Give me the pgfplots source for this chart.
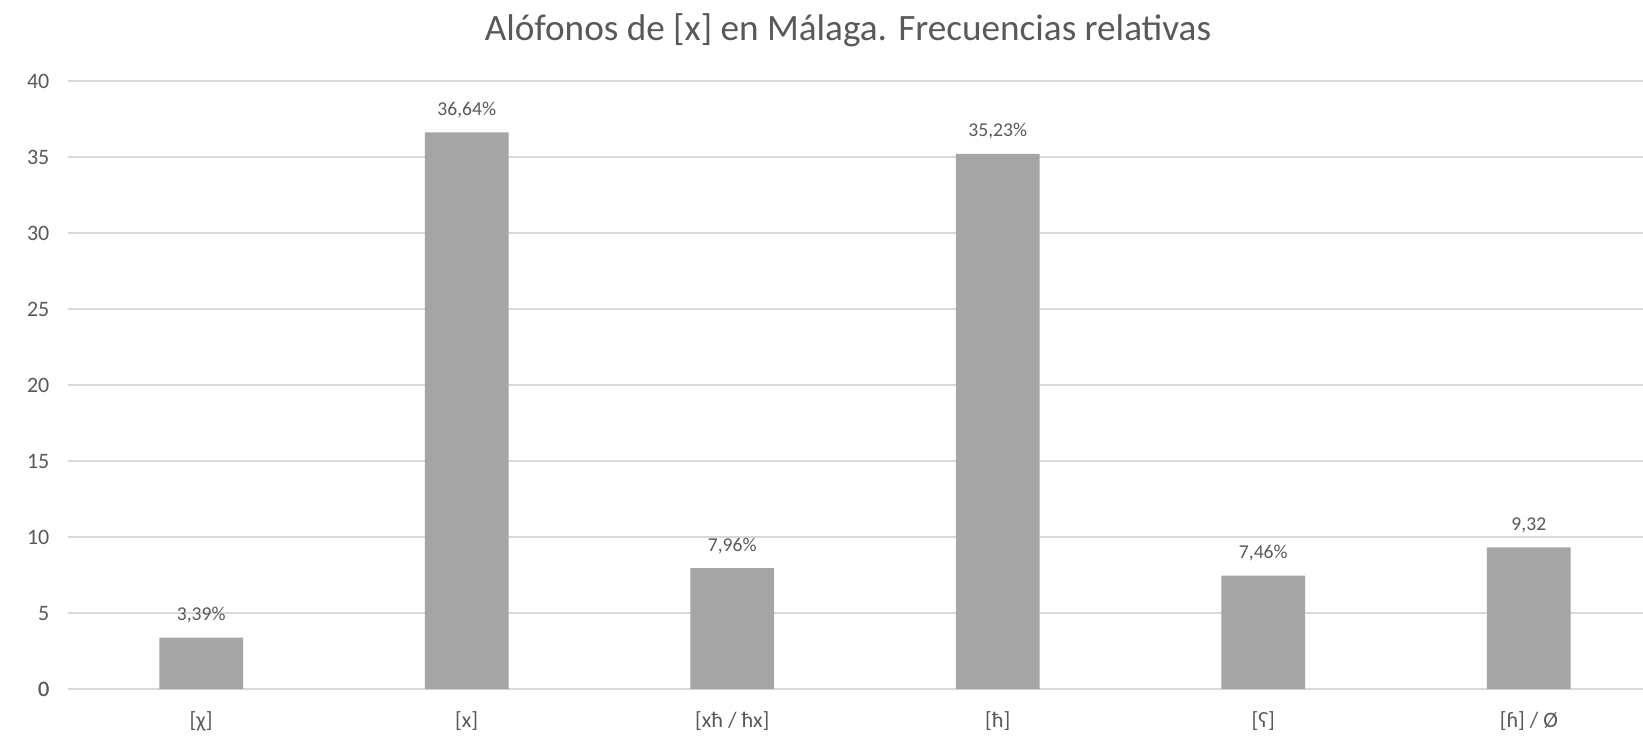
\documentclass[border=0pt]{standalone}
\usepackage{fontspec}
\setmainfont{Carlito}
\usepackage{pgfplots}
\pgfplotsset{compat=1.18}
\definecolor{txt}{HTML}{595959}
\definecolor{barc}{HTML}{A5A5A5}
\definecolor{gridc}{HTML}{D9D9D9}
\begin{document}
\begin{tikzpicture}
\begin{axis}[
  at={(34.2pt,24.75pt)}, anchor=south west,
  scale only axis, width=787.3pt, height=303.9pt,
  xmin=-0.5, xmax=5.43, ymin=0, ymax=40,
  ytick={0,5,...,40},
  xtick={0,1,2,3,4,5},
  xticklabels={[χ],[x],[xħ / ħx],[ħ],[ʕ],[ɦ] / Ø},
  axis line style={draw=none},
  tick style={draw=none},
  ymajorgrids, grid style={gridc, line width=0.9pt},
  extra y ticks={0}, extra y tick style={grid style={gridc,line width=1pt}},
  /pgf/number format/assume math mode=true,
  ticklabel style={font=\fontsize{11}{13}\selectfont, text=txt},
  yticklabel style={anchor=east, xshift=-6pt},
  xticklabel style={anchor=center, yshift=-16pt},
  clip=false,
  point meta=explicit symbolic,
  nodes near coords,
  nodes near coords style={font=\fontsize{9.8}{11}\selectfont, text=txt, anchor=base, inner sep=0pt, yshift=8.4pt},
]
\addplot[ybar, bar width=41.9pt, fill=barc, draw=none] coordinates {
  (0,3.39) [3,39\%]
  (1,36.64) [36,64\%]
  (2,7.96) [7,96\%]
  (3,35.23) [35,23\%]
  (4,7.46) [7,46\%]
  (5,9.32) [9,32]
};
\end{axis}
\node[text=txt, font=\fontsize{18.6}{21}\selectfont] at (424pt,354pt) {Alófonos de [x] en Málaga. Frecuencias relativas};
\pgfresetboundingbox
\path[use as bounding box] (0,0) rectangle (821.5pt,369.3pt);
\end{tikzpicture}
\end{document}
